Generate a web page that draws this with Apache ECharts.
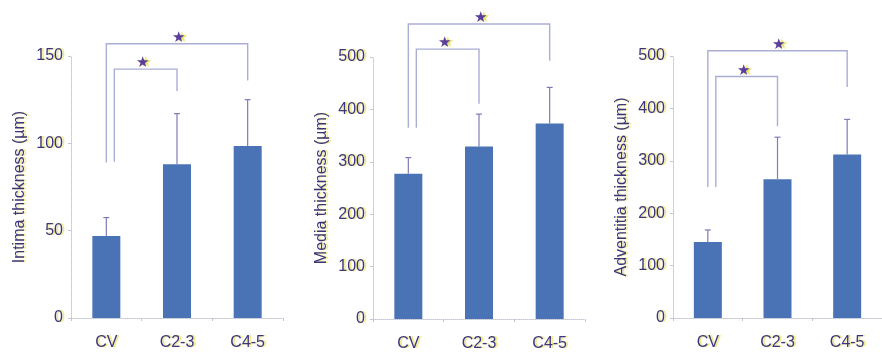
<!DOCTYPE html>
<html><head><meta charset="utf-8">
<script src="https://cdn.jsdelivr.net/npm/echarts@6/dist/echarts.min.js"></script>
<style>html,body{margin:0;padding:0;background:#fff}#c{width:882px;height:352px}</style>
</head><body><div id="c"></div>
<script>
const categories = ['CV', 'C2-3', 'C4-5'];
const intimaMean = [47, 88, 98.5];
const intimaErr = [57.5, 117, 125];
const mediaMean = [277, 329, 373];
const mediaErr = [308, 391, 442];
const adventitiaMean = [145, 265, 312];
const adventitiaErr = [168, 345, 379];
// [fromCategory, toCategory, bracketTop, fromEnd, toEnd]
const intimaBrackets = [[0, 2, 157, 89, 136], [0, 1, 142.5, 89.5, 130]];
const mediaBrackets = [[0, 2, 563, 365, 493], [0, 1, 515, 365, 411]];
const adventitiaBrackets = [[0, 2, 510, 250, 441], [0, 1, 461, 250, 366]];
const yMax = [150, 500, 500];
const yStep = [50, 100, 100];
const yNames = ['Intima thickness (µm)', 'Media thickness (µm)', 'Adventitia thickness (µm)'];

const means = [intimaMean, mediaMean, adventitiaMean];
const errs = [intimaErr, mediaErr, adventitiaErr];
const brackets = [intimaBrackets, mediaBrackets, adventitiaBrackets];

const textColor = '#3b3580';
const font = 'Liberation Sans, Arial, sans-serif';
const shadow = { textShadowColor: 'rgba(232,222,80,0.8)', textShadowOffsetX: 2, textShadowOffsetY: 0, textShadowBlur: 1 };
const axisGray = '#c4c6d4';
const grids = [
  { left: 71, top: 56, width: 212, height: 262 },
  { left: 373, top: 57, width: 212, height: 262 },
  { left: 673, top: 56, width: 211, height: 262 }
];

const xAxis = [], yAxis = [], series = [];
for (let i = 0; i < 3; i++) {
  xAxis.push({
    type: 'category', gridIndex: i, data: categories,
    axisLine: { lineStyle: { color: axisGray, type: 'dotted', width: 1 } },
    axisTick: { show: true, length: 3, lineStyle: { color: axisGray } },
    axisLabel: Object.assign({ color: textColor, fontSize: 16, margin: 17, fontFamily: font }, shadow)
  });
  yAxis.push({
    type: 'value', gridIndex: i, min: 0, max: yMax[i], interval: yStep[i],
    name: yNames[i], nameLocation: 'middle', nameGap: 43,
    nameTextStyle: Object.assign({ color: textColor, fontSize: 16, fontFamily: font }, shadow),
    axisLine: { show: true, lineStyle: { color: axisGray, type: 'dotted', width: 1 } },
    axisTick: { show: true, length: 3, lineStyle: { color: axisGray } },
    splitLine: { show: false },
    axisLabel: Object.assign({ color: textColor, fontSize: 16, margin: 8, fontFamily: font }, shadow)
  });
  series.push({
    type: 'bar', xAxisIndex: i, yAxisIndex: i, data: means[i], barWidth: 28,
    itemStyle: { color: '#4a73b6' }, z: 2
  });
  series.push({
    type: 'custom', xAxisIndex: i, yAxisIndex: i, z: 3, clip: false,
    data: categories.map((c, k) => [k, means[i][k], errs[i][k]]),
    encode: { x: 0, y: 2 },
    renderItem: function (params, api) {
      const b = api.coord([api.value(0), api.value(1)]);
      const t = api.coord([api.value(0), api.value(2)]);
      const st = { stroke: '#7d7bb9', lineWidth: 1.2 };
      return { type: 'group', children: [
        { type: 'line', shape: { x1: b[0], y1: b[1], x2: t[0], y2: t[1] }, style: st },
        { type: 'line', shape: { x1: t[0] - 3, y1: t[1], x2: t[0] + 3, y2: t[1] }, style: st }
      ] };
    }
  });
  series.push({
    type: 'custom', xAxisIndex: i, yAxisIndex: i, z: 4, clip: false,
    data: brackets[i],
    encode: { x: 0, y: 2 },
    renderItem: function (params, api) {
      const off = params.dataIndex === 1 ? 8 : 0;
      const top1 = api.coord([api.value(0), api.value(2)]);
      const top2 = api.coord([api.value(1), api.value(2)]);
      const e1 = api.coord([api.value(0), api.value(3)]);
      const e2 = api.coord([api.value(1), api.value(4)]);
      const x1 = top1[0] + off, x2 = top2[0];
      const y = top1[1];
      const st = { stroke: '#aaadd6', lineWidth: 1.4, fill: null };
      const mid = (top1[0] + x2) / 2;
      return { type: 'group', children: [
        { type: 'polyline', shape: { points: [[x1, e1[1]], [x1, y], [x2, y], [x2, e2[1]]] }, style: st },
        { type: 'text', x: mid + 1, y: y - 6, style: { text: '★', fill: '#5a3e9c', fontSize: 15, align: 'center', verticalAlign: 'middle', textShadowColor: 'rgba(232,222,80,0.85)', textShadowOffsetX: 3, textShadowBlur: 1 } }
      ] };
    }
  });
}

const chart = echarts.init(document.getElementById('c'), null, { renderer: 'canvas' });
chart.setOption({ animation: false, backgroundColor: '#fff', grid: grids, xAxis: xAxis, yAxis: yAxis, series: series });
</script>
</body></html>
